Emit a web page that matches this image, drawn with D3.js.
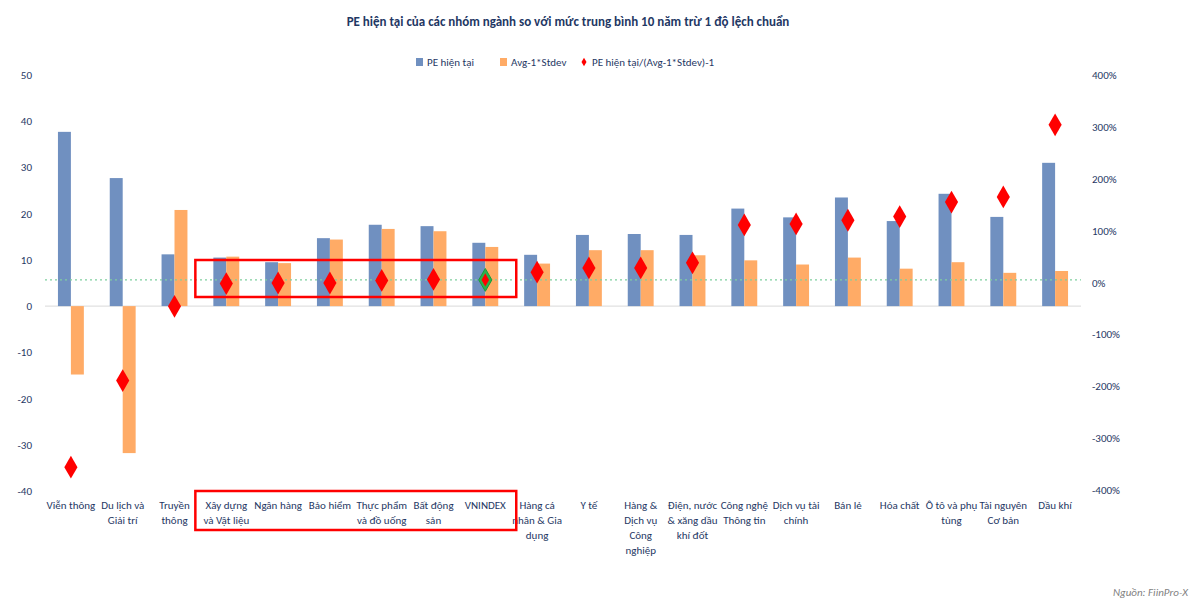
<!DOCTYPE html>
<html><head><meta charset="utf-8">
<script src="https://cdn.jsdelivr.net/npm/d3@7"></script>
<style>body{margin:0;background:#fff;font-family:Calibri,Carlito,"Liberation Sans","Open Sans",sans-serif;}</style>
</head><body><div id="chart"></div>
<script>
// Dữ liệu
const categories = [
  ['Viễn thông'], ['Du lịch và', 'Giải trí'], ['Truyền', 'thông'], ['Xây dựng', 'và Vật liệu'],
  ['Ngân hàng'], ['Bảo hiểm'], ['Thực phẩm', 'và đồ uống'], ['Bất động', 'sản'], ['VNINDEX'],
  ['Hàng cá', 'nhân & Gia', 'dụng'], ['Y tế'], ['Hàng &', 'Dịch vụ', 'Công', 'nghiệp'],
  ['Điện, nước', '& xăng dầu', 'khí đốt'], ['Công nghệ', 'Thông tin'], ['Dịch vụ tài', 'chính'],
  ['Bán lẻ'], ['Hóa chất'], ['Ô tô và phụ', 'tùng'], ['Tài nguyên', 'Cơ bản'], ['Dầu khí']
];
const peNow = [37.7, 27.7, 11.2, 10.5, 9.5, 14.7, 17.6, 17.3, 13.7, 11.1, 15.4, 15.6, 15.4, 21.1, 19.2, 23.5, 18.4, 24.3, 19.3, 31.0];
const avgMinusStd = [-14.8, -31.8, 20.8, 10.7, 9.3, 14.4, 16.7, 16.2, 12.8, 9.2, 12.1, 12.1, 11.0, 9.9, 9.0, 10.5, 8.1, 9.5, 7.2, 7.6];
const ratio = [-3.56, -1.89, -0.46, -0.02, -0.01, -0.01, 0.04, 0.06, 0.05, 0.20, 0.28, 0.28, 0.38, 1.11, 1.13, 1.20, 1.27, 1.55, 1.65, 3.04];
const leftTicks = [-40, -30, -20, -10, 0, 10, 20, 30, 40, 50];
const rightTicks = [-4, -3, -2, -1, 0, 1, 2, 3, 4];
const refLine = 0.05;

const width = 1200, height = 601;
const navy = '#1f3864', blue = '#7090c0', orange = '#ffab66', red = '#ff0000';

const svg = d3.select('#chart').append('svg').attr('width', width).attr('height', height);

// Thang đo
const x = d3.scaleBand().domain(d3.range(categories.length)).range([45, 1081]).paddingInner(0.5).paddingOuter(0.25);
const yL = d3.scaleLinear().domain([-40, 50]).range([491, 75]);
const yR = d3.scaleLinear().domain([-4, 4]).range([490, 75]);
const xs = d3.scaleBand().domain([0, 1]).range([0, x.bandwidth()]);

// Tiêu đề
svg.append('text').attr('x', 568).attr('y', 26).attr('text-anchor', 'middle')
  .attr('font-size', 13).attr('font-weight', 'bold').attr('fill', navy)
  .text('PE hiện tại của các nhóm ngành so với mức trung bình 10 năm trừ 1 độ lệch chuẩn');

// Chú giải
const legend = svg.append('g').attr('font-size', 11).attr('fill', navy);
[[416, 'rect', blue, 'PE hiện tại'], [500, 'rect', orange, 'Avg-1*Stdev'], [581, 'diamond', red, 'PE hiện tại/(Avg-1*Stdev)-1']]
  .forEach(([lx, type, c, t]) => {
    if (type === 'rect') legend.append('rect').attr('x', lx).attr('y', 58).attr('width', 7).attr('height', 8).attr('fill', c);
    else legend.append('path').attr('d', d3.symbol(d3.symbolDiamond, 22)()).attr('transform', `translate(${lx + 3},62)`).attr('fill', c);
    legend.append('text').attr('x', lx + 11).attr('y', 66).attr('fill', navy).text(t);
  });

// Trục
const axisL = svg.append('g').attr('font-size', 11).attr('fill', navy);
leftTicks.forEach(t => axisL.append('text').attr('x', 32).attr('y', yL(t) + 4).attr('text-anchor', 'end').text(t));
const axisR = svg.append('g').attr('font-size', 11).attr('fill', navy);
rightTicks.forEach(t => axisR.append('text').attr('x', 1092).attr('y', yR(t) + 4).text(d3.format('.0%')(t).replace('−', '-')));

svg.append('line').attr('x1', 45).attr('x2', 1081).attr('y1', yL(0)).attr('y2', yL(0)).attr('stroke', '#d9d9d9');

// Cột
const g = svg.append('g');
categories.forEach((c, i) => {
  [[peNow[i], blue], [avgMinusStd[i], orange]].forEach(([v, col], k) => {
    g.append('rect').attr('x', x(i) + xs(k)).attr('width', xs.bandwidth())
      .attr('y', yL(Math.max(0, v))).attr('height', Math.abs(yL(v) - yL(0))).attr('fill', col);
  });
});

// Đường tham chiếu
svg.append('line').attr('x1', 45).attr('x2', 1081).attr('y1', yR(refLine)).attr('y2', yR(refLine))
  .attr('stroke', '#7fcf9f').attr('stroke-dasharray', '2,3').attr('stroke-width', 1.2);

// Điểm tỷ lệ
const diamond = d3.symbol(d3.symbolDiamond, 150)();
ratio.forEach((r, i) => {
  const isIndex = categories[i][0] === 'VNINDEX';
  svg.append('path').attr('d', diamond).attr('transform', `translate(${x(i) + x.bandwidth() / 2},${yR(r)})`)
    .attr('fill', isIndex ? '#2bb24c' : red).attr('stroke', isIndex ? '#1a9a3a' : 'none');
  if (isIndex) svg.append('path').attr('d', d3.symbol(d3.symbolDiamond, 50)())
    .attr('transform', `translate(${x(i) + x.bandwidth() / 2},${yR(r)})`).attr('fill', red);
});

// Nhãn danh mục
const labels = svg.append('g').attr('font-size', 11).attr('fill', navy).attr('text-anchor', 'middle');
categories.forEach((lines, i) => {
  const t = labels.append('text').attr('x', x(i) + x.bandwidth() / 2).attr('y', 509);
  lines.forEach((l, j) => t.append('tspan').attr('x', x(i) + x.bandwidth() / 2).attr('dy', j ? 15 : 0).text(l));
});

// Khung đỏ
svg.append('rect').attr('x', x(3) - 18).attr('y', 260).attr('width', x(8) + x.bandwidth() + 18 - (x(3) - 18)).attr('height', 37)
  .attr('fill', 'none').attr('stroke', red).attr('stroke-width', 2.5);
svg.append('rect').attr('x', x(3) - 18).attr('y', 491).attr('width', x(8) + x.bandwidth() + 18 - (x(3) - 18)).attr('height', 39)
  .attr('fill', 'none').attr('stroke', red).attr('stroke-width', 2.5);

// Nguồn
svg.append('text').attr('x', 1188).attr('y', 596).attr('text-anchor', 'end').attr('font-size', 11)
  .attr('font-style', 'italic').attr('fill', '#7f7f7f').text('Nguồn: FiinPro-X');
</script></body></html>
